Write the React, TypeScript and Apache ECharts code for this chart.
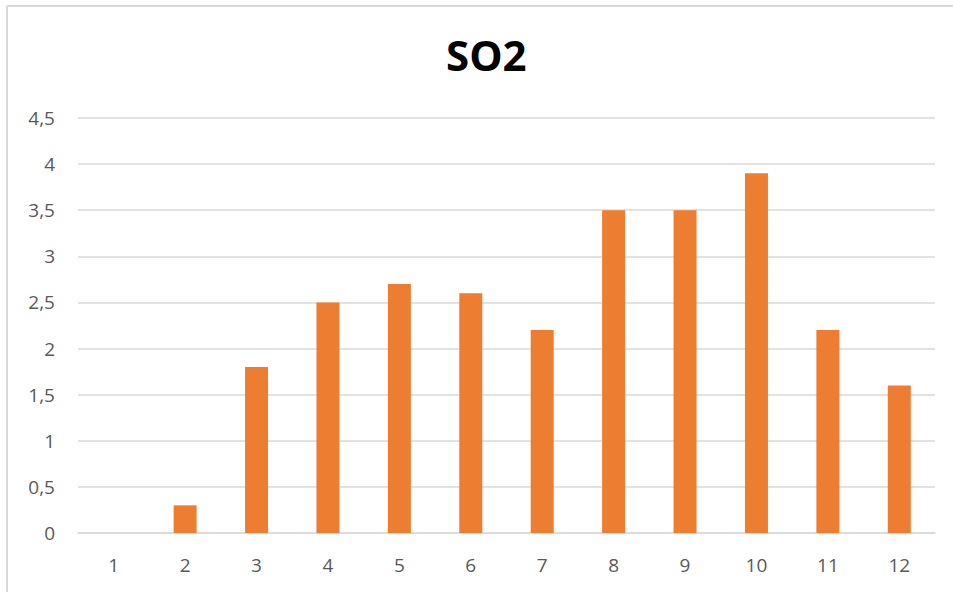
import React, { useEffect, useRef } from "react";
import * as echarts from "echarts";

const categories = ["1", "2", "3", "4", "5", "6", "7", "8", "9", "10", "11", "12"];
const so2Values = [0, 0.3, 1.8, 2.5, 2.7, 2.6, 2.2, 3.5, 3.5, 3.9, 2.2, 1.6];
const titleText = "SO2";

export default function App() {
  const ref = useRef<HTMLDivElement>(null);
  useEffect(() => {
    if (!ref.current) return;
    const chart = echarts.init(ref.current, undefined, { renderer: "svg" });
    chart.setOption({
      animation: false,
      backgroundColor: "#ffffff",
      title: {
        text: titleText,
        left: 441,
        top: 28,
        textStyle: { fontFamily: "Open Sans", fontWeight: "bold", fontSize: 42, color: "#000000" },
      },
      grid: { left: 78, right: 18, top: 118, bottom: 59 },
      xAxis: {
        type: "category",
        data: categories,
        axisTick: { show: false },
        axisLine: { lineStyle: { color: "#d9d9d9", width: 1.5 } },
        axisLabel: { color: "#595959", fontFamily: "Open Sans", fontSize: 19, margin: 22 },
      },
      yAxis: {
        type: "value",
        min: 0,
        max: 4.5,
        interval: 0.5,
        axisLine: { show: false },
        axisTick: { show: false },
        splitLine: { lineStyle: { color: "#d9d9d9", width: 1.5 } },
        axisLabel: {
          color: "#595959",
          fontFamily: "Open Sans",
          fontSize: 19,
          margin: 23,
          formatter: (v: number) => String(v).replace(".", ","),
        },
      },
      series: [
        {
          type: "bar",
          data: so2Values,
          barWidth: 23,
          itemStyle: { color: "#ED7D31" },
        },
      ],
      graphic: [
        { type: "line", shape: { x1: 7, y1: 6, x2: 953, y2: 6 }, style: { stroke: "#d9d9d9", lineWidth: 2 } },
        { type: "line", shape: { x1: 7, y1: 6, x2: 7, y2: 592 }, style: { stroke: "#d9d9d9", lineWidth: 2 } },
      ],
    });
    return () => chart.dispose();
  }, []);
  return (
    <div
      ref={ref}
      style={{ position: "absolute", left: 0, top: 0, width: 953, height: 592 }}
    />
  );
}
